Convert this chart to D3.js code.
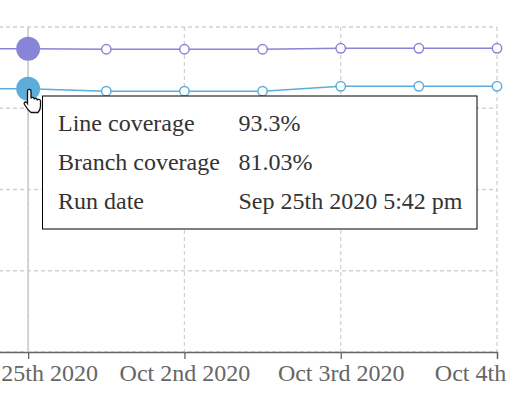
<!DOCTYPE html>
<html>
<head>
<meta charset="utf-8">
<script src="https://cdn.jsdelivr.net/npm/d3@7"></script>
<style>
  html, body { margin: 0; padding: 0; background: #fff; overflow: hidden; }
  svg { display: block; font-family: "Liberation Serif", serif; }
</style>
</head>
<body>
<div id="chart"></div>
<script>
// one entry per coverage run, the first one sits left of the visible area
const runs = ['Sep 18th 2020', 'Sep 25th 2020', 'Oct 1st 2020', 'Oct 2nd 2020', 'Oct 2nd 2020 pm', 'Oct 3rd 2020', 'Oct 3rd 2020 pm', 'Oct 4th 2020'];
const lineCoverage = [93.3, 93.3, 93.15, 93.15, 93.15, 93.45, 93.45, 93.45];
const branchCoverage = [81.03, 81.03, 80.25, 80.25, 80.25, 81.75, 81.75, 81.75];
const tickRuns = ['Sep 25th 2020', 'Oct 2nd 2020', 'Oct 3rd 2020', 'Oct 4th 2020'];
const yTicks = [0, 25, 50, 75, 100];
const activeRun = 'Sep 25th 2020';
const tooltipLabels = ['Line coverage', 'Branch coverage', 'Run date'];
const tooltipValues = ['93.3%', '81.03%', 'Sep 25th 2020 5:42 pm'];

const width = 526,
    height = 396,
    margin = { top: 27, right: 29, bottom: 44, left: -50 };

const x = d3.scalePoint()
    .domain(runs)
    .range([margin.left, width - margin.right]);

const y = d3.scaleLinear()
    .domain([0, 100])
    .range([height - margin.bottom, margin.top]);

// the drawing stops a bit short of the window, the last tick label is cut there
const svg = d3.select('#chart')
    .append('svg')
    .attr('width', width - 16)
    .attr('height', height);

// grid
const grid = svg.append('g').attr('class', 'grid')
    .attr('fill', 'none')
    .attr('stroke', '#d2d2d2')
    .attr('stroke-width', 1.3)
    .attr('stroke-dasharray', '4 3');

grid.selectAll('line.h')
    .data(yTicks)
    .join('line')
    .attr('class', 'h')
    .attr('x1', x.range()[0])
    .attr('x2', x.range()[1])
    .attr('y1', d => y(d))
    .attr('y2', d => y(d));

grid.selectAll('line.v')
    .data(tickRuns)
    .join('line')
    .attr('class', 'v')
    .attr('x1', d => x(d))
    .attr('x2', d => x(d))
    .attr('y1', y.range()[1])
    .attr('y2', y.range()[0]);

// x axis
const xAxis = d3.axisBottom(x)
    .tickValues(tickRuns)
    .tickSize(7)
    .tickPadding(5);

const axis = svg.append('g')
    .attr('class', 'x-axis')
    .attr('transform', 'translate(0,' + y(0) + ')')
    .call(xAxis);

axis.select('.domain').attr('stroke', '#666').attr('stroke-width', 1.3);
axis.selectAll('.tick line').attr('stroke', '#666').attr('stroke-width', 1.3);
axis.selectAll('.tick text')
    .attr('fill', '#666')
    .style('font-family', '"Liberation Serif", serif')
    .style('font-size', '24px');

// hover cursor
svg.append('line')
    .attr('x1', x(activeRun))
    .attr('x2', x(activeRun))
    .attr('y1', y.range()[1])
    .attr('y2', y.range()[0])
    .attr('stroke', '#ccc')
    .attr('stroke-width', 1.6);

// series
function drawSeries(values, color) {
    const line = d3.line()
        .x((d, i) => x(runs[i]))
        .y(d => y(d));

    svg.append('path')
        .datum(values)
        .attr('fill', 'none')
        .attr('stroke', color)
        .attr('stroke-width', 1.5)
        .attr('d', line);

    svg.append('g')
        .selectAll('circle')
        .data(values)
        .join('circle')
        .attr('cx', (d, i) => x(runs[i]))
        .attr('cy', d => y(d))
        .attr('r', (d, i) => runs[i] === activeRun ? 12 : 4.7)
        .attr('fill', (d, i) => runs[i] === activeRun ? color : '#fff')
        .attr('stroke', color)
        .attr('stroke-width', (d, i) => runs[i] === activeRun ? 0 : 1.5);
}

drawSeries(lineCoverage, '#8884d8');
drawSeries(branchCoverage, '#5dadda');

// tooltip
const tooltip = svg.append('g').attr('class', 'tooltip');

tooltip.append('rect')
    .attr('x', 42.5)
    .attr('y', 96)
    .attr('width', 434.5)
    .attr('height', 133)
    .attr('fill', '#fff')
    .attr('stroke', '#000')
    .attr('stroke-width', 1);

tooltip.selectAll('text.label')
    .data(tooltipLabels)
    .join('text')
    .attr('class', 'label')
    .attr('x', 58)
    .attr('y', (d, i) => 131 + i * 39)
    .attr('fill', '#333')
    .style('font-size', '24px')
    .text(d => d);

tooltip.selectAll('text.value')
    .data(tooltipValues)
    .join('text')
    .attr('class', 'value')
    .attr('x', 238.5)
    .attr('y', (d, i) => 131 + i * 39)
    .attr('fill', '#333')
    .style('font-size', '24px')
    .text(d => d);

// mouse pointer from the screenshot
svg.append('path')
    .attr('transform', 'translate(24,89)')
    .attr('d', 'M3.5 13V2.2C3.5 -.2 7 -.2 7 2.2V9.5C7 8 10.2 8 10.2 9.8V10.5C10.2 9 13.2 9 13.2 10.8V11.5C13.2 10 16.5 10 16.5 12V17C16.5 20 15.5 22 14 23.5H7C5 22 2.5 19 .5 15.5C-.8 13 2 12 3.5 14.5Z')
    .attr('fill', '#fff')
    .attr('stroke', '#111')
    .attr('stroke-width', 1.3);
</script>
</body>
</html>
